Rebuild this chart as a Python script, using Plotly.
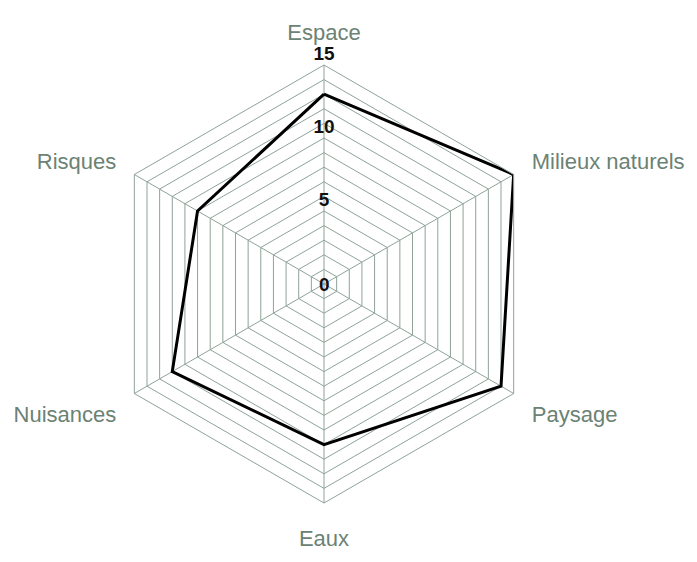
import plotly.graph_objects as go

categories = ["Espace", "Milieux naturels", "Paysage", "Eaux", "Nuisances", "Risques"]
values = [13, 15, 14, 11, 12, 10]
radial_tick_vals = [0, 5, 10, 15]
radial_tick_text = ["0", "5", "10", "15"]

GRID = "#8fa398"
LABEL = "#6b8274"
FONT = "Liberation Sans, Arial, sans-serif"
TICKFONT = dict(family=FONT, size=19, color="#111111", weight="bold")

fig = go.Figure()

fig.add_trace(go.Scatterpolar(
    r=values + [values[0]],
    theta=categories + [categories[0]],
    mode="lines",
    line=dict(color="black", width=3),
    hoverinfo="skip",
    showlegend=False,
))

# radial labels 5, 10, 15 drawn along the "Espace" spoke
fig.add_trace(go.Scatterpolar(
    r=radial_tick_vals[1:],
    theta=[categories[0]] * (len(radial_tick_vals) - 1),
    mode="text",
    text=radial_tick_text[1:],
    textposition="top center",
    textfont=TICKFONT,
    cliponaxis=False,
    showlegend=False,
    hoverinfo="skip",
))

# centre label "0" (plotly hides polar points lying exactly at the pole)
fig.add_annotation(
    x=0.5, y=0.5, xref="paper", yref="paper",
    text=radial_tick_text[0], showarrow=False,
    font=TICKFONT, xanchor="center", yanchor="middle",
)

fig.update_layout(
    width=697, height=562,
    margin=dict(l=97, r=162, t=57, b=67),
    paper_bgcolor="white",
    showlegend=False,
    polar=dict(
        bgcolor="white",
        gridshape="linear",
        radialaxis=dict(
            range=[0, 15], dtick=1, tick0=0, showticklabels=False, ticks="",
            gridcolor=GRID, gridwidth=1, showline=False,
        ),
        angularaxis=dict(
            rotation=90, direction="clockwise",
            gridcolor=GRID, gridwidth=1,
            linecolor=GRID, linewidth=1, showline=True,
            ticks="outside", ticklen=16, tickcolor="rgba(0,0,0,0)",
            tickfont=dict(family=FONT, size=22, color=LABEL),
        ),
    ),
)

fig.write_html("out.html")
